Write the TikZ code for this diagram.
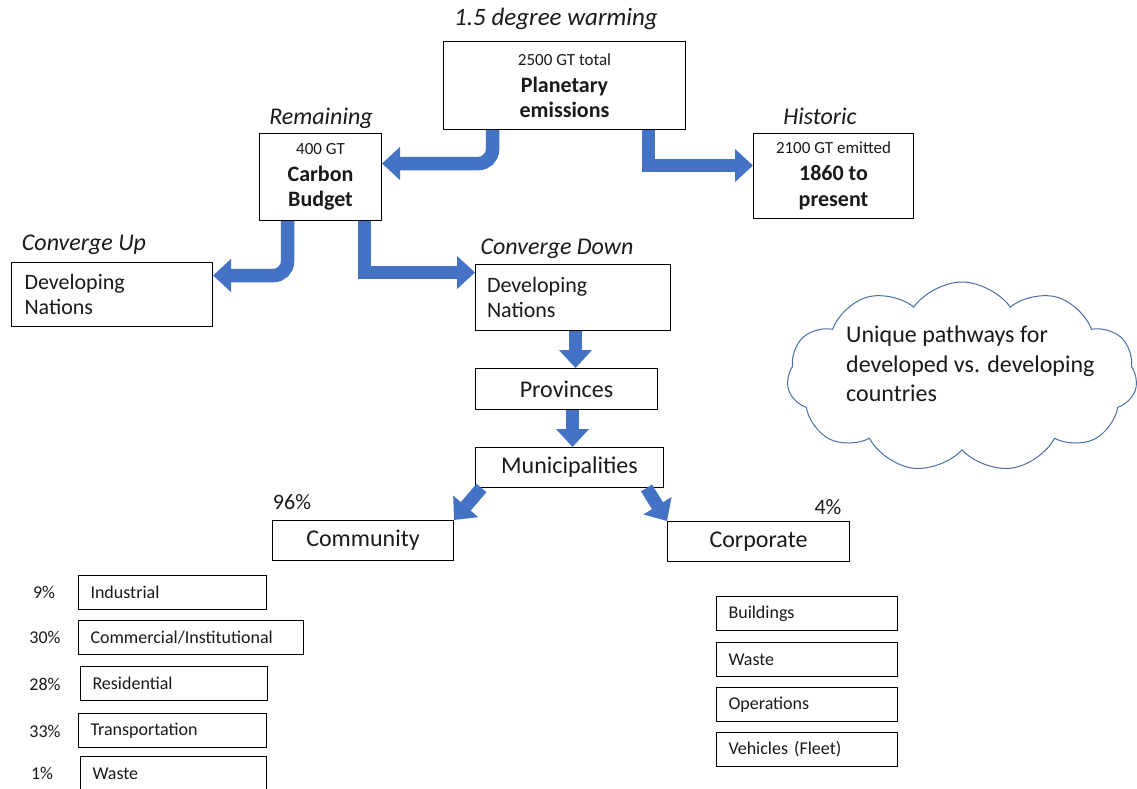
\documentclass[tikz,border=0pt]{standalone}
\usepackage{fontspec}
\setmainfont{Carlito}
\usetikzlibrary{arrows.meta,shapes.symbols,calc}
\definecolor{arrowblue}{HTML}{4472C4}
\definecolor{cloudblue}{HTML}{4A6FA5}
\definecolor{txt}{HTML}{1A1A1A}
\newcommand{\fsz}[2]{\fontsize{#1}{#2}\selectfont}
\begin{document}
\begin{tikzpicture}[x=1pt,y=-1pt,
  box/.style={draw=black, line width=1pt, inner sep=0pt, fill=white, anchor=north west, text=txt},
  tribox/.style={box, align=center, font=\fsz{22}{25.5}\bfseries},
  lbl/.style={inner sep=0pt, text=txt},
  ttl/.style={inner sep=0pt, text=txt, font=\fsz{24}{29}\itshape},
  blk/.style={draw=arrowblue, line width=13.5pt, -{Triangle[length=18pt,width=32pt]}},
  blkr/.style={blk, rounded corners=14pt},
  pct/.style={inner sep=0pt, text=txt, font=\fsz{18}{22}},
  item/.style={box, minimum height=34pt, font=\fsz{18}{22}, align=left},
]
\useasboundingbox (0,0) rectangle (1137,789);
\fill[white] (0,0) rectangle (1137,789);

% top level
\node[ttl, font=\fsz{25}{30}\itshape] (t15) at (556,19) {1.5 degree warming};
\node[tribox, minimum width=242pt, minimum height=88pt] (plan) at (443,41)
  {{\fsz{17}{20}\mdseries 2500 GT total}\\[1.5pt]Planetary\\emissions};

\node[ttl] (trem) at (321,118) {Remaining};
\node[tribox, minimum width=122pt, minimum height=87pt] (carbon) at (259,133)
  {{\fsz{17}{20}\mdseries 400 GT}\\[1.5pt]Carbon\\Budget};

\node[ttl] (this) at (820,116) {Historic};
\node[tribox, minimum width=160pt, minimum height=85pt] (hist) at (753,133)
  {{\fsz{17}{20}\mdseries 2100 GT emitted}\\[1.5pt]1860 to\\present};

% converge
\node[ttl] (tup) at (84,245) {Converge Up};
\node[box, minimum width=201pt, minimum height=64pt, font=\fsz{22}{25}, align=left, text width=175pt] (up) at (11,262)
  {Developing\\Nations};
\node[ttl] (tdown) at (557,249) {Converge Down};
\node[box, minimum width=195pt, minimum height=66pt, font=\fsz{22}{25}, align=left, text width=172pt] (down) at (475,264)
  {Developing\\Nations};

\node[box, minimum width=182pt, minimum height=41pt, font=\fsz{24}{29}] (prov) at (475,368) {Provinces};
\node[box, minimum width=188pt, minimum height=40pt, font=\fsz{24}{29}] (muni) at (475,447) {Municipalities};

\node[lbl, font=\fsz{22}{26}] (p96) at (292,502) {96\%};
\node[box, minimum width=181pt, minimum height=40pt, font=\fsz{24}{29}] (comm) at (272,520) {Community};
\node[lbl, font=\fsz{22}{26}] (p4) at (828,507) {4\%};
\node[box, minimum width=182pt, minimum height=40pt, font=\fsz{24}{29}] (corp) at (667,521) {Corporate};

% cloud
\node[cloud, cloud puffs=11, cloud puff arc=110, aspect=1.8, draw=cloudblue, line width=1pt,
  minimum width=350pt, minimum height=190pt, inner sep=0pt] (cloud) at (962,377) {};
\node[lbl, font=\fsz{24}{29.5}, align=left, anchor=west] (cloudtxt) at (846,364)
  {Unique pathways for\\developed vs. developing\\countries};

% community list
\node[item, minimum width=188pt, text width=164pt] (ind) at (78,575) {Industrial};
\node[pct] (p9) at (44,592) {9\%};
\node[item, minimum width=225pt, text width=201pt] (com) at (78,620) {Commercial/Institutional};
\node[pct] (p30) at (45,637) {30\%};
\node[item, minimum width=187pt, text width=163pt] (res) at (80,666) {Residential};
\node[pct] (p28) at (45,684) {28\%};
\node[item, minimum width=188pt, text width=164pt] (tra) at (78,713) {Transportation};
\node[pct] (p33) at (45,731) {33\%};
\node[item, minimum width=186pt, text width=162pt] (was) at (80,756) {Waste};
\node[pct] (p1) at (42,773) {1\%};

% corporate list
\node[item, minimum width=181pt, text width=157pt] (bld) at (716,596) {Buildings};
\node[item, minimum width=181pt, text width=157pt] (cw) at (716,642) {Waste};
\node[item, minimum width=181pt, text width=157pt] (ops) at (716,687) {Operations};
\node[item, minimum width=181pt, text width=157pt] (veh) at (716,732) {Vehicles (Fleet)};

% arrows
\draw[blkr] ([xshift=-72pt]plan.south) |- ([yshift=13.5pt]carbon.east);
\draw[blk] ([xshift=84pt]plan.south) |- ([yshift=10.5pt]hist.west);
\draw[blkr] ([xshift=-33pt]carbon.south) |- ([yshift=19pt]up.east);
\draw[blk] ([xshift=44pt]carbon.south) |- ([yshift=25pt]down.west);
\draw[blk] ([xshift=2.5pt]down.south) -- ([xshift=2.5pt]down.south |- prov.north);
\draw[blk] ([xshift=6pt]prov.south) -- ([xshift=6pt]prov.south |- muni.north);
\draw[blk, line width=13pt] ([xshift=-88pt]muni.south) -- (comm.north east);
\draw[blk, line width=13pt] ([xshift=77pt]muni.south) -- (corp.north west);
\end{tikzpicture}
\end{document}
